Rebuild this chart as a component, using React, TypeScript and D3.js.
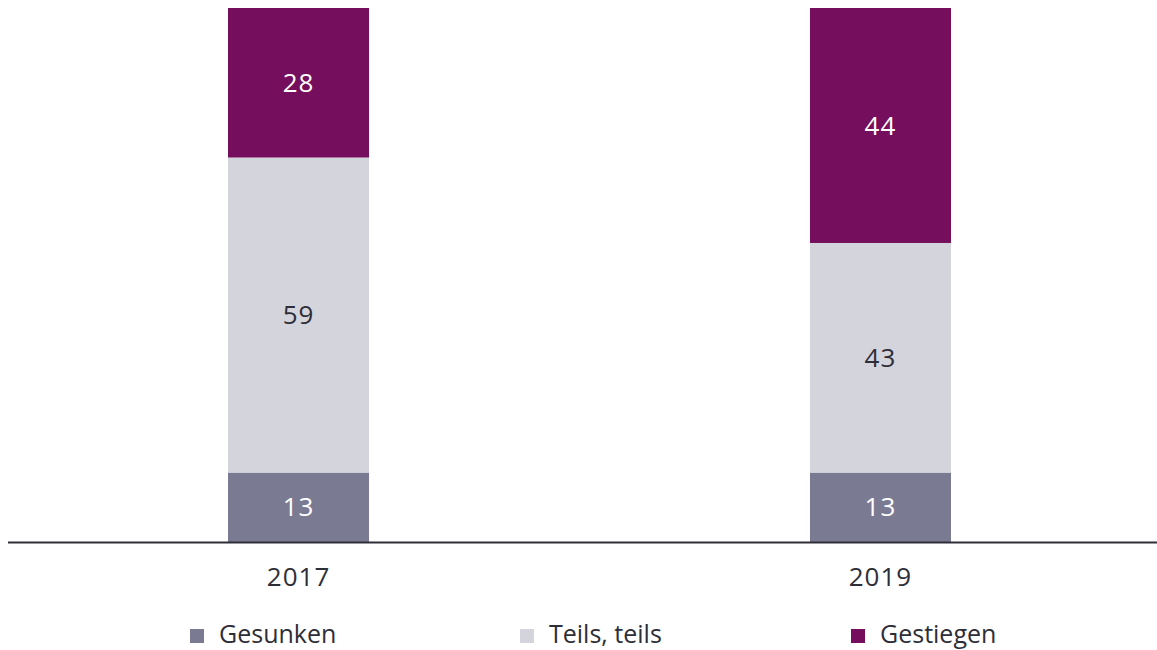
import React, { useEffect, useRef } from "react";
import * as d3 from "d3";

const years = ["2017", "2019"];
const seriesKeys = ["Gesunken", "Teils, teils", "Gestiegen"];
const gesunken = [13, 13];
const teils = [59, 43];
const gestiegen = [28, 44];

const colors: Record<string, string> = {
  "Gesunken": "#7B7A93",
  "Teils, teils": "#D4D4DD",
  "Gestiegen": "#750E5C",
};
const labelColors: Record<string, string> = {
  "Gesunken": "#ffffff",
  "Teils, teils": "#2E2E38",
  "Gestiegen": "#ffffff",
};

const W = 1157;
const H = 650;
const FONT = "'Open Sans', 'Noto Sans', sans-serif";

export default function App() {
  const svgRef = useRef<SVGSVGElement>(null);

  useEffect(() => {
    const svg = d3.select(svgRef.current);
    svg.selectAll("*").remove();

    const data = years.map((y, i) => ({
      year: y,
      "Gesunken": gesunken[i],
      "Teils, teils": teils[i],
      "Gestiegen": gestiegen[i],
    }));

    const x = d3
      .scaleBand()
      .domain(years)
      .range([22, 1157])
      .paddingInner(0.7577)
      .paddingOuter(0.354);

    const y = d3.scaleLinear().domain([0, 100]).range([542, 8]);

    const stacked = d3.stack<any>().keys(seriesKeys)(data);

    const layers = svg
      .selectAll(".layer")
      .data(stacked)
      .enter()
      .append("g")
      .attr("class", "layer");

    layers
      .selectAll("rect")
      .data((d) => d.map((p) => ({ p, key: d.key })))
      .enter()
      .append("rect")
      .attr("x", (d) => x(d.p.data.year)!)
      .attr("width", x.bandwidth())
      .attr("y", (d) => y(d.p[1]))
      .attr("height", (d) => y(d.p[0]) - y(d.p[1]))
      .attr("fill", (d) => colors[d.key]);

    layers
      .selectAll("text")
      .data((d) => d.map((p) => ({ p, key: d.key })))
      .enter()
      .append("text")
      .attr("x", (d) => x(d.p.data.year)! + x.bandwidth() / 2)
      .attr("y", (d) => (y(d.p[0]) + y(d.p[1])) / 2)
      .attr("dy", "0.35em")
      .attr("text-anchor", "middle")
      .style("font-family", FONT)
      .style("font-size", "26px")
      .style("letter-spacing", "1px")
      .attr("fill", (d) => labelColors[d.key])
      .text((d) => d.p[1] - d.p[0]);

    // baseline
    svg
      .append("line")
      .attr("x1", 8)
      .attr("x2", W)
      .attr("y1", y(0) + 0.5)
      .attr("y2", y(0) + 0.5)
      .attr("stroke", "#2E2E38")
      .attr("stroke-width", 2);

    svg
      .selectAll(".year")
      .data(years)
      .enter()
      .append("text")
      .attr("class", "year")
      .attr("x", (d) => x(d)! + x.bandwidth() / 2)
      .attr("y", 586)
      .attr("text-anchor", "middle")
      .style("font-family", FONT)
      .style("font-size", "26px")
      .style("letter-spacing", "1px")
      .attr("fill", "#2E2E38")
      .text((d) => d);

    const legendX = [190, 520, 851];
    const legend = svg
      .selectAll(".legend-item")
      .data(seriesKeys)
      .enter()
      .append("g")
      .attr("class", "legend-item")
      .attr("transform", (d, i) => `translate(${legendX[i]}, 629)`);

    legend
      .append("rect")
      .attr("width", 14)
      .attr("height", 14)
      .attr("fill", (d) => colors[d]);

    legend
      .append("text")
      .attr("x", 29)
      .attr("y", 14)
      .style("font-family", FONT)
      .style("font-size", "25px")
      .attr("fill", "#2E2E38")
      .text((d) => d);
  }, []);

  return (
    <svg
      ref={svgRef}
      width={W}
      height={H}
      style={{ position: "absolute", top: 0, left: 0, background: "#fff" }}
    />
  );
}
